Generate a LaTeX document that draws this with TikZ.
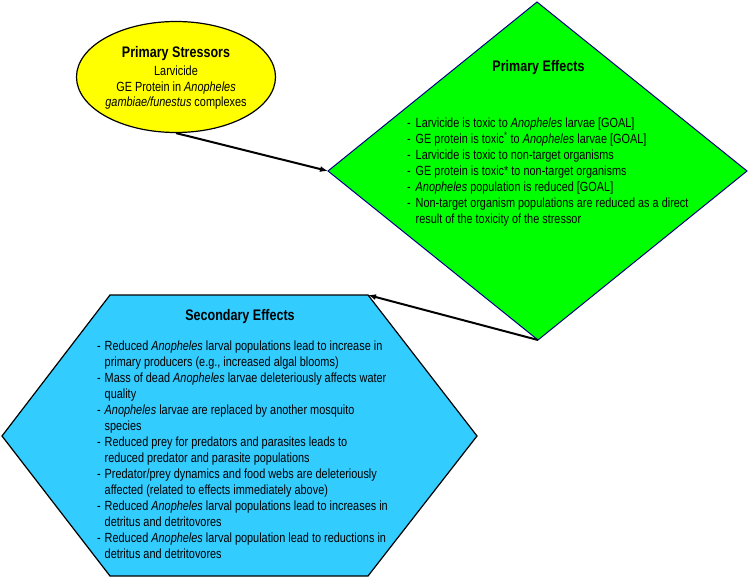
\documentclass[tikz,border=0pt]{standalone}
\usepackage{fontspec}
\setmainfont[FakeStretch=0.82]{Liberation Sans}
\usetikzlibrary{shapes.geometric,arrows.meta}
\definecolor{ellyellow}{RGB}{255,255,0}
\definecolor{diagreen}{RGB}{0,255,0}
\definecolor{hexblue}{RGB}{51,204,255}
\definecolor{diaborder}{RGB}{0,0,128}
\newcommand{\bodyfont}{\fontsize{13.3}{16}\selectfont}
\newcommand{\titlefont}{\bfseries\fontsize{15.3}{16}\selectfont}
\newcommand{\dashitem}{-}
\begin{document}
\begin{tikzpicture}[x=1pt,y=-1pt,
  conn/.style={line width=2pt,-{Latex[length=8pt,width=6pt]}},
  txt/.style={inner sep=0pt,anchor=base},
  txtw/.style={inner sep=0pt,anchor=base west}]
\useasboundingbox (0,0) rectangle (749,578);
% shapes
\node[draw=black,line width=1.2pt,fill=ellyellow,ellipse,minimum width=199pt,minimum height=111pt,inner sep=0pt] (stress) at (176,77) {};
\path[draw=diaborder,line width=1pt,fill=diagreen]
  (537,2) coordinate (dT) -- (747,171) coordinate (dR) -- (538,340) coordinate (dB) -- (328,171) coordinate (dL) -- cycle;
\path[draw=black,line width=1.2pt,fill=hexblue]
  (110,295) coordinate (hTL) -- (368,295) coordinate (hTR) -- (477,436) coordinate (hR) -- (368,576) coordinate (hBR) -- (110,576) coordinate (hBL) -- (2,436) coordinate (hL) -- cycle;
% texts
\node[txt,font=\titlefont] (stitle) at (176,58) {Primary Stressors};
\node[txt,font=\bodyfont] (sbody) at (176,75) {\begin{tabular}[t]{@{}c@{}}Larvicide\\GE Protein in \textit{Anopheles}\\\textit{gambiae/funestus} complexes\end{tabular}};
\node[txt,font=\titlefont] (ptitle) at (538.5,71) {Primary Effects};
\node[txtw,font=\bodyfont] (pbody) at (407,127) {\begin{tabular}[t]{@{}p{8.5pt}@{}l@{}}
\dashitem & Larvicide is toxic to \textit{Anopheles} larvae [GOAL]\\
\dashitem & GE protein is toxic\textsuperscript{*} to \textit{Anopheles} larvae [GOAL]\\
\dashitem & Larvicide is toxic to non-target organisms\\
\dashitem & GE protein is toxic* to non-target organisms\\
\dashitem & \textit{Anopheles} population is reduced [GOAL]\\
\dashitem & Non-target organism populations are reduced as a direct\\
 & result of the toxicity of the stressor
\end{tabular}};
\node[txt,font=\titlefont] (htitle) at (240,320) {Secondary Effects};
\node[txtw,font=\bodyfont] (hbody) at (97,350) {\begin{tabular}[t]{@{}p{7.5pt}@{}l@{}}
\dashitem & Reduced \textit{Anopheles} larval populations lead to increase in\\
 & primary producers (e.g., increased algal blooms)\\
\dashitem & Mass of dead \textit{Anopheles} larvae deleteriously affects water\\
 & quality\\
\dashitem & \textit{Anopheles} larvae are replaced by another mosquito\\
 & species\\
\dashitem & Reduced prey for predators and parasites leads to\\
 & reduced predator and parasite populations\\
\dashitem & Predator/prey dynamics and food webs are deleteriously\\
 & affected (related to effects immediately above)\\
\dashitem & Reduced \textit{Anopheles} larval populations lead to increases in\\
 & detritus and detritovores\\
\dashitem & Reduced \textit{Anopheles} larval population lead to reductions in\\
 & detritus and detritovores
\end{tabular}};
% connectors
\draw[conn] (stress.south) -- (dL);
\draw[conn] (dB) -- (hTR);
\end{tikzpicture}
\end{document}
